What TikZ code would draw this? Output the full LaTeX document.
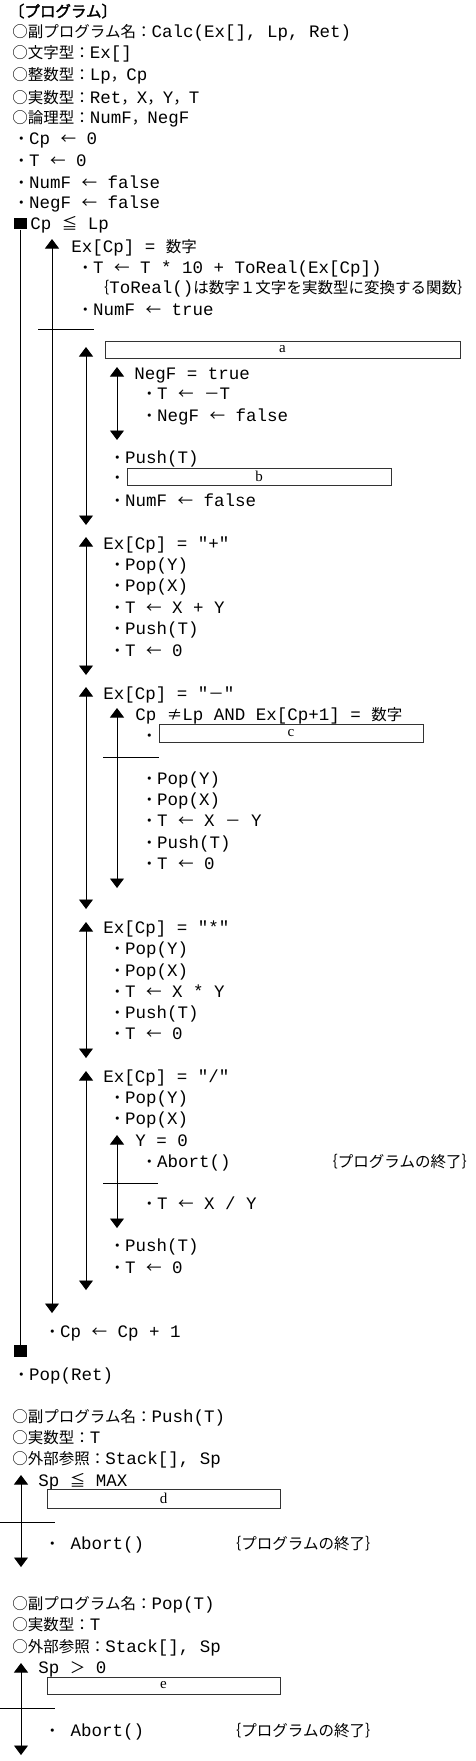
\documentclass[tikz,border=0pt]{standalone}
\usepackage{fontspec}
\setmonofont{Liberation Mono}
\newfontfamily\jfont{Noto Sans CJK JP}[Scale = 0.886]
\newfontfamily\jtitle{Noto Sans CJK JP}[Scale = 0.886, FakeBold = 2]
\newfontfamily\boxfont{Liberation Serif}
\usetikzlibrary{arrows.meta}

\newcommand\jp[1]{{\jfont #1}}
\newcommand\asgn{\jp{←}}
\newcommand\pdot{\jp{・}}

\tikzset{
	line/.style = {anchor = base west, inner sep = 0pt, font = \ttfamily\fontsize{17.5}{20}\selectfont},
	blank/.style = {draw = black!80, line width = 0.6pt, inner sep = 0pt, font = \boxfont\fontsize{15}{15}\selectfont},
	endmark/.style = {fill, inner sep = 0pt, minimum width = 13pt, minimum height = 11.5pt}
}
\frenchspacing

\begin{document}
\begin{tikzpicture}[x = 1pt, y = -1pt, > = {Triangle[width = 14pt, length = 9.5pt]}, line width = 0.9pt]

	\useasboundingbox (0, 0) rectangle (475, 1761);

	% Program Calc: declarations and loop body

	\foreach \x/\y/\t [count = \n] in {
		8.5/17/{{\jtitle 〔プログラム〕}},
		12/38/{\jp{○副プログラム名：}Calc(Ex[], Lp, Ret)},
		12/59/{\jp{○文字型：}Ex[]},
		12/81/{\jp{○整数型：}Lp\jp{，}Cp},
		12/103/{\jp{○実数型：}Ret\jp{，}X\jp{，}Y\jp{，}T},
		12/123/{\jp{○論理型：}NumF\jp{，}NegF},
		13.25/144/{\pdot Cp \asgn{} 0},
		13.25/166/{\pdot T \asgn{} 0},
		13.25/188/{\pdot NumF \asgn{} false},
		13.25/208/{\pdot NegF \asgn{} false},
		30/229/{Cp \jp{≦} Lp},
		71/252/{Ex[Cp] = \jp{数字}},
		77.25/273/{\pdot T \asgn{} T * 10 + ToReal(Ex[Cp])},
		93.5/293/{\jp{｛}ToReal()\jp{は数字１文字を実数型に変換する関数｝}},
		77.25/315/{\pdot NumF \asgn{} true},
		134/379/{NegF = true},
		141.25/399/{\pdot T \asgn{} \jp{－}T},
		141.25/421/{\pdot NegF \asgn{} false},
		109.25/463/{\pdot Push(T)},
		109.25/483/{\pdot},
		109.25/506/{\pdot NumF \asgn{} false},
		103/549/{Ex[Cp] = "+"},
		109.25/570/{\pdot Pop(Y)},
		109.25/591/{\pdot Pop(X)},
		109.25/613/{\pdot T \asgn{} X + Y},
		109.25/634/{\pdot Push(T)},
		109.25/656/{\pdot T \asgn{} 0},
		103/699/{Ex[Cp] = "\jp{－}"},
		135/720/{Cp \jp{≠}Lp AND Ex[Cp+1] = \jp{数字}},
		141.25/741/{\pdot},
		141.25/784/{\pdot Pop(Y)},
		141.25/805/{\pdot Pop(X)},
		141.25/826/{\pdot T \asgn{} X \jp{－} Y},
		141.25/848/{\pdot Push(T)},
		141.25/869/{\pdot T \asgn{} 0},
		103/933/{Ex[Cp] = "*"},
		109.25/954/{\pdot Pop(Y)},
		109.25/976/{\pdot Pop(X)},
		109.25/997/{\pdot T \asgn{} X * Y},
		109.25/1018/{\pdot Push(T)},
		109.25/1039/{\pdot T \asgn{} 0},
		103/1082/{Ex[Cp] = "/"},
		109.25/1103/{\pdot Pop(Y)},
		109.25/1124/{\pdot Pop(X)},
		135/1146/{Y = 0},
		141.25/1167/{\pdot Abort()},
		322/1167/{\jp{｛プログラムの終了｝}},
		141.25/1209/{\pdot T \asgn{} X / Y},
		109.25/1251/{\pdot Push(T)},
		109.25/1273/{\pdot T \asgn{} 0},
		44.25/1337/{\pdot Cp \asgn{} Cp + 1},
		13.25/1380/{\pdot Pop(Ret)}}
		\node [line] (calc\n) at (\x, \y) {\t};

	% Programs Push and Pop

	\foreach \x/\y/\t [count = \n] in {
		12/1422/{\jp{○副プログラム名：}Push(T)},
		12/1443/{\jp{○実数型：}T},
		12/1464/{\jp{○外部参照：}Stack[], Sp},
		38/1486/{Sp \jp{≦} MAX},
		44.25/1549/{\pdot\ Abort()},
		225.5/1549/{\jp{｛プログラムの終了｝}},
		12/1609/{\jp{○副プログラム名：}Pop(T)},
		12/1630/{\jp{○実数型：}T},
		12/1652/{\jp{○外部参照：}Stack[], Sp},
		38/1673/{Sp \jp{＞} 0},
		44.25/1736/{\pdot\ Abort()},
		225.5/1736/{\jp{｛プログラムの終了｝}}}
		\node [line] (stack\n) at (\x, \y) {\t};

	% Blanks to fill in

	\foreach \x/\y/\w/\h/\t in {282.5/349.5/355/17/a, 259/476.5/264/17/b, 291/733/264/18/c, 163.5/1498.5/233/19/d, 163.5/1685.5/233/17/e}
		\node [blank, minimum width = \w pt, minimum height = \h pt] (\t) at (\x, \y) {\t};

	% Repetition Cp <= Lp

	\node [endmark] (loopbegin) at (20.5, 223.5) {};
	\node [endmark] (loopend) at (20.5, 1351) {};
	\draw (loopbegin) -- (loopend);

	% Selections

	\foreach \x/\ya/\yb [count = \n] in {52/239/1313, 86/347/525, 86/537/675, 86/687/909, 86/922/1058, 86/1071/1290, 117/367/440, 117/708/888, 117/1135/1228, 21/1475/1567, 21/1663/1755}
	{
		\coordinate (if\n) at (\x, \ya);
		\coordinate (fi\n) at (\x, \yb);
		\draw [<->] (if\n) -- (fi\n);
	}

	% Else separators

	\foreach \y/\xa/\xb in {329/38/94, 757/103/159, 1183/103/158, 1522/0/55, 1708/0/55}
		\draw (\xa, \y) -- (\xb, \y);

\end{tikzpicture}
\end{document}
